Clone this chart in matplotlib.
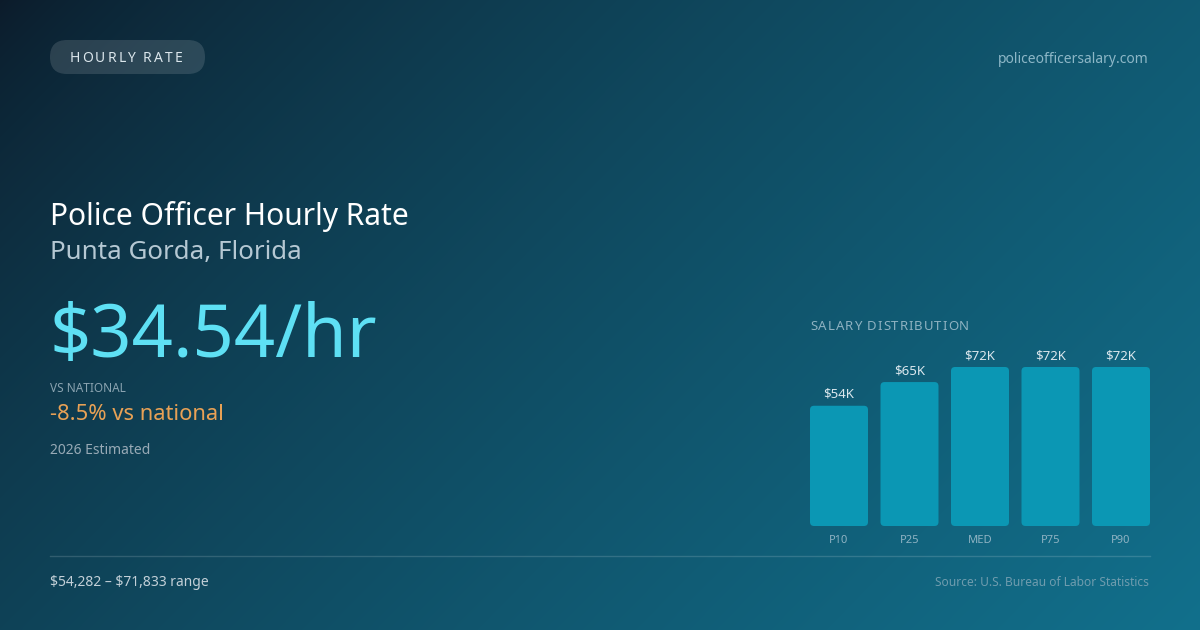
import matplotlib
matplotlib.use("Agg")
import matplotlib.pyplot as plt
import numpy as np
from matplotlib.patches import FancyBboxPatch

plt.rcParams['font.family'] = ['Noto Sans', 'DejaVu Sans']
plt.rcParams['text.parse_math'] = False

# data
percentiles = ["P10", "P25", "MED", "P75", "P90"]
salaries_k = [54.3, 65.0, 71.8, 71.8, 71.8]
hourly_rate = "$34.54/hr"
vs_national = "-8.5% vs national"
range_text = "$54,282 \u2013 $71,833 range"

W, H = 1200, 630
fig = plt.figure(figsize=(W / 100, H / 100), dpi=100)

# background gradient (dark top-left to teal bottom-right)
bg = fig.add_axes([0, 0, 1, 1])
bg.set_xlim(0, W)
bg.set_ylim(H, 0)
bg.axis("off")
yy, xx = np.mgrid[0:H, 0:W]
t = (xx / W * 0.66 + yy / H * 0.34)
t = np.clip(t, 0, 1) ** 0.72
c0 = np.array([12, 27, 42]) / 255
c1 = np.array([18, 112, 140]) / 255
img = c0[None, None, :] * (1 - t[..., None]) + c1[None, None, :] * t[..., None]
bg.imshow(img, extent=[0, W, H, 0], aspect="auto", zorder=0)


def spaced_text(ax, x, y, s, spacing, **kw):
    """Draw text one char at a time with extra letter spacing (pixels)."""
    r = fig.canvas.get_renderer()
    for ch in s:
        t = ax.text(x, y, ch, va="baseline", ha="left", **kw)
        bb = t.get_window_extent(renderer=r)
        x += bb.width + spacing


# pill
pill = FancyBboxPatch((50, 40), 155, 34, boxstyle="round,pad=0,rounding_size=17",
                      fc=(1, 1, 1, 0.13), ec="none", zorder=2)
bg.add_patch(pill)
spaced_text(bg, 70, 62, "HOURLY RATE", 2.0, fontsize=10, color="#dbe6ec", zorder=3)

bg.text(1149, 63, "policeofficersalary.com", ha="right", va="baseline",
        fontsize=10, color="#8db7c7")

# left text block
bg.text(50, 225, "Police Officer Hourly Rate", va="baseline", fontsize=21.6, color="white")
bg.text(50, 259, "Punta Gorda, Florida", va="baseline", fontsize=18.7, color="#b5c8d3")
bg.text(49, 357, hourly_rate, va="baseline", fontsize=52, color="#5ee0f4")
bg.text(50, 392, "VS NATIONAL", va="baseline", fontsize=8.5, color="#8aa3b0")
bg.text(50, 420, vs_national, va="baseline", fontsize=15.8, color="#e8a155")
bg.text(50, 454, "2026 Estimated", va="baseline", fontsize=10, color="#98aab6")

# divider + footer
bg.plot([50, 1150], [556, 556], color=(1, 1, 1, 0.15), lw=1)
bg.text(50, 586, range_text, va="baseline", fontsize=10, color="#c3d0d8")
bg.text(1149, 586, "Source: U.S. Bureau of Labor Statistics", ha="right", va="baseline",
        fontsize=8.6, color="#6f9cae")

# salary distribution label
spaced_text(bg, 810, 330, "SALARY DISTRIBUTION", 1.0, fontsize=9.5, color="#8eb2c1")

# bar chart axes: x 810..1150, y 367..526 (pixels)
ax = fig.add_axes([810 / W, (H - 526) / H, 340 / W, (526 - 367) / H])
ax.set_facecolor("none")
ax.axis("off")
bw = 58 / 70.5
ymax = max(salaries_k)
ax.set_xlim(-bw / 2, len(percentiles) - 1 + bw / 2)
ax.set_ylim(0, ymax)
bars = ax.bar(range(len(percentiles)), salaries_k, width=bw, color="none")
px_x = 70.5
px_y = 159 / ymax
r = 4
for b, v, lab in zip(bars, salaries_k, percentiles):
    p = FancyBboxPatch((b.get_x(), 0), b.get_width(), b.get_height(),
                       boxstyle=f"round,pad=0,rounding_size={r / px_x}",
                       mutation_aspect=(r / px_y) / (r / px_x),
                       fc="#0b97b4", ec="none")
    ax.add_patch(p)
    cx = b.get_x() + b.get_width() / 2
    ax.text(cx, v + 8 / px_y, f"${v:.0f}K", ha="center", va="baseline",
            fontsize=9.5, color="#dbe7ed", clip_on=False)
    ax.text(cx, -17 / px_y, lab, ha="center", va="baseline",
            fontsize=8, color="#8fb3c3", clip_on=False)

fig.savefig("out.png", dpi=100)
